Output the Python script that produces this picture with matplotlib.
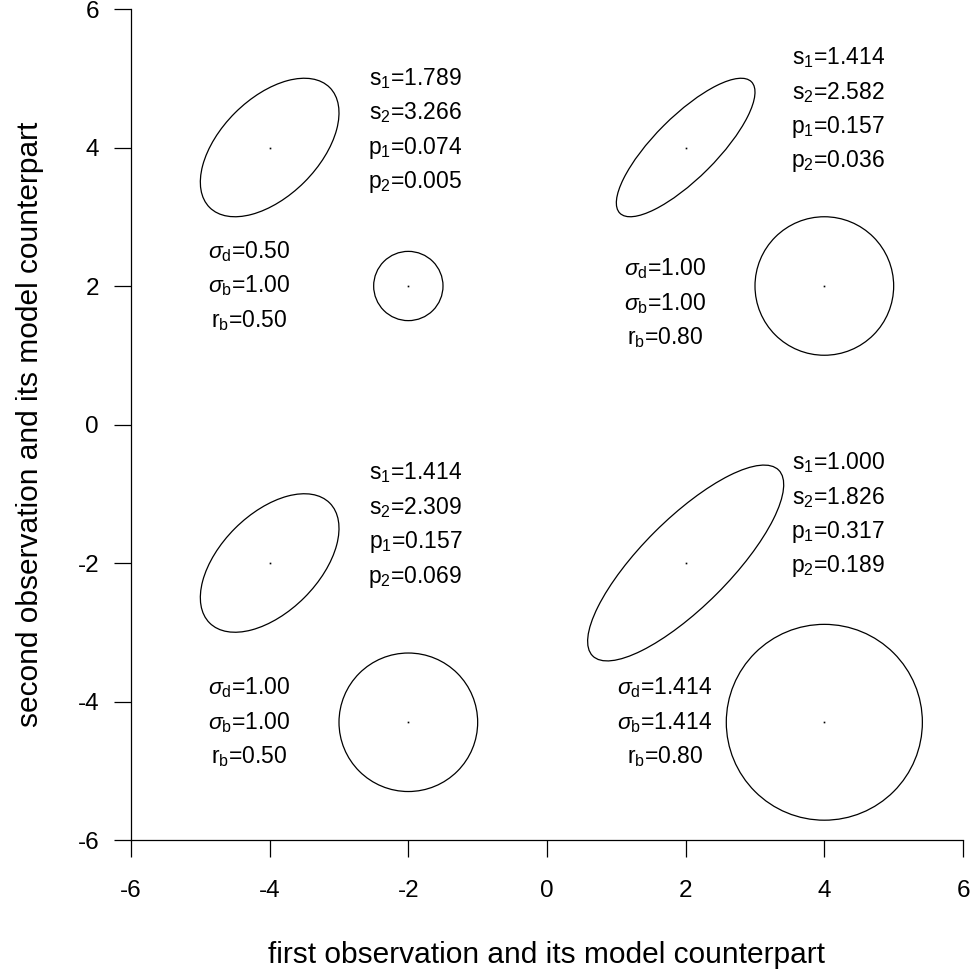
import numpy as np
import matplotlib
matplotlib.use("Agg")
import matplotlib.pyplot as plt
from matplotlib.patches import Circle, Ellipse

plt.rcParams['font.family'] = ['Liberation Sans', 'DejaVu Sans']
plt.rcParams['mathtext.fontset'] = 'custom'
plt.rcParams['mathtext.rm'] = 'Liberation Sans'
plt.rcParams['mathtext.it'] = 'Liberation Sans:italic'
plt.rcParams['axes.unicode_minus'] = False

# four panels: ellipse centre, circle centre, parameters
ell_x = [-4, 2, -4, 2]
ell_y = [4, 4, -2, -2]
circ_x = [-2, 4, -2, 4]
circ_y = [2, 2, -4.3, -4.3]
sigma_d = [0.50, 1.00, 1.00, 1.414]
sigma_b = [1.00, 1.00, 1.00, 1.414]
r_b = [0.50, 0.80, 0.50, 0.80]

# printed statistics
s1 = ["1.789", "1.414", "1.414", "1.000"]
s2 = ["3.266", "2.582", "2.309", "1.826"]
p1 = ["0.074", "0.157", "0.157", "0.317"]
p2 = ["0.005", "0.036", "0.069", "0.189"]
sd_lab = ["0.50", "1.00", "1.00", "1.414"]
sb_lab = ["1.00", "1.00", "1.00", "1.414"]
rb_lab = ["0.50", "0.80", "0.50", "0.80"]

# label anchor positions (x centre, y of first line)
stat_x = [-1.9, 4.2, -1.9, 4.2]
stat_y = [5.0, 5.3, -0.7, -0.55]
par_x = [-4.3, 1.7, -4.3, 1.7]
par_y = [2.5, 2.25, -3.8, -3.8]

ticks = [-6, -4, -2, 0, 2, 4, 6]

fig = plt.figure(figsize=(9.72, 9.72), dpi=100)
ax = fig.add_axes([131/972, 132/972, 832/972, 831/972])
ax.set_xlim(-6, 6)
ax.set_ylim(-6, 6)

lw = 0.9
for i in range(4):
    cov = sigma_b[i]**2 * np.array([[1, r_b[i]], [r_b[i], 1]])
    vals, vecs = np.linalg.eigh(cov)
    angle = np.degrees(np.arctan2(vecs[1, 1], vecs[0, 1]))
    ax.add_patch(Ellipse((ell_x[i], ell_y[i]), 2*np.sqrt(vals[1]), 2*np.sqrt(vals[0]),
                         angle=angle, fill=False, edgecolor='black', lw=lw))
    ax.add_patch(Circle((circ_x[i], circ_y[i]), sigma_d[i], fill=False,
                        edgecolor='black', lw=lw))
    ax.plot([ell_x[i], circ_x[i]], [ell_y[i], circ_y[i]], ls='none',
            marker='s', ms=1.2, color='black', mew=0)

    stats = [r'$\mathrm{s}_1$=' + s1[i], r'$\mathrm{s}_2$=' + s2[i],
             r'$\mathrm{p}_1$=' + p1[i], r'$\mathrm{p}_2$=' + p2[i]]
    for k, s in enumerate(stats):
        ax.text(stat_x[i], stat_y[i] - 0.5*k, s, ha='center', va='center',
                fontsize=16.5)
    pars = [r'$\sigma_\mathrm{d}$=' + sd_lab[i], r'$\sigma_\mathrm{b}$=' + sb_lab[i],
            r'$\mathrm{r}_\mathrm{b}$=' + rb_lab[i]]
    for k, s in enumerate(pars):
        ax.text(par_x[i], par_y[i] - 0.5*k, s, ha='center', va='center',
                fontsize=16.5)

for side in ['top', 'right']:
    ax.spines[side].set_visible(False)
for side in ['left', 'bottom']:
    ax.spines[side].set_linewidth(0.9)
ax.set_xticks(ticks)
ax.set_yticks(ticks)
ax.tick_params(direction='out', length=12, width=0.9, labelsize=17.5)
ax.tick_params(axis='x', pad=17)
ax.tick_params(axis='y', pad=11)

ax.set_xlabel('first observation and its model counterpart', fontsize=21.5, labelpad=28)
ax.set_ylabel('second observation and its model counterpart', fontsize=21.5, labelpad=24)

fig.savefig('out.png', dpi=100)
